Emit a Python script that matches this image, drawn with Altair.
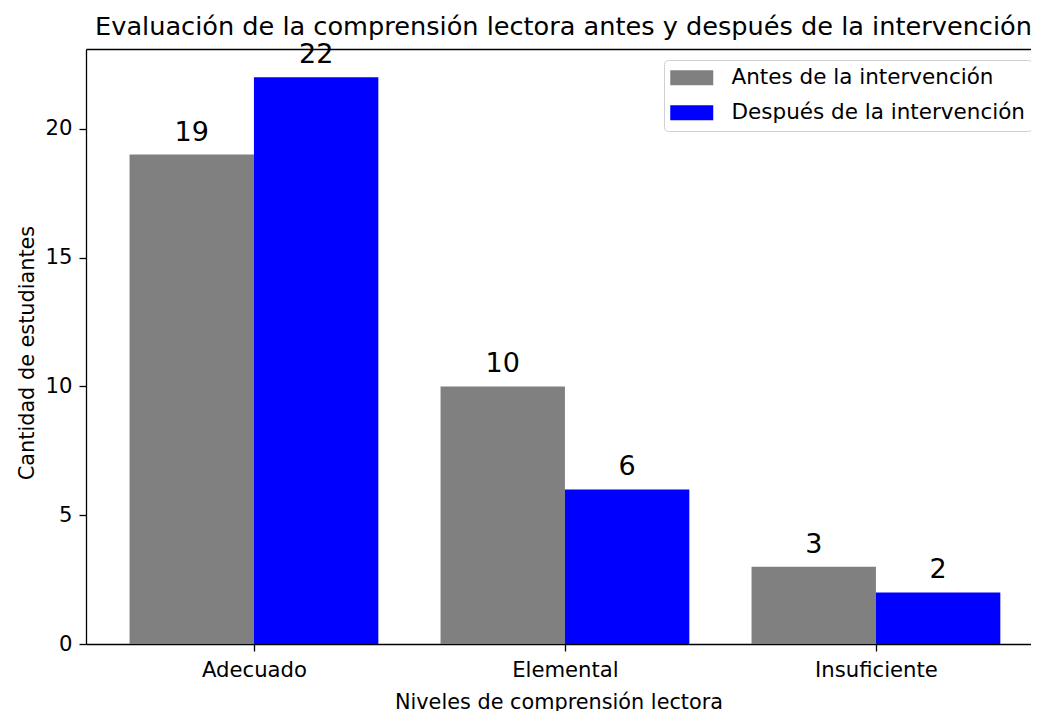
import json
import altair as alt
import pandas as pd

categorias = ["Adecuado", "Elemental", "Insuficiente"]
antes = [19, 10, 3]
despues = [22, 6, 2]
grupos = ["Antes de la intervención", "Después de la intervención"]
colores = ["#808080", "#0000ff"]
titulo = "Evaluación de la comprensión lectora antes y después de la intervención"
eje_x = "Niveles de comprensión lectora"
eje_y = "Cantidad de estudiantes"
ticks_y = [0, 5, 10, 15, 20]

rows = []
for i, cat in enumerate(categorias):
    rows.append({"nivel": cat, "pos": i, "grupo": grupos[0], "orden": 0, "valor": antes[i]})
    rows.append({"nivel": cat, "pos": i, "grupo": grupos[1], "orden": 1, "valor": despues[i]})
df = pd.DataFrame(rows)

ancho = 0.4
FONT = "DejaVu Sans"
W, H = 945, 595

base = alt.Chart(df).transform_calculate(
    x0=f"datum.pos + (datum.orden - 1) * {ancho}",
    x1=f"datum.pos + datum.orden * {ancho}",
    xm=f"datum.pos + (datum.orden - 0.5) * {ancho}",
)

xscale = alt.Scale(domain=[-0.54, 2.4986], nice=False, zero=False)
yscale = alt.Scale(domain=[0, 23.1], nice=False)

bars = base.mark_rect().encode(
    x=alt.X(
        "x0:Q",
        scale=xscale,
        axis=alt.Axis(
            values=[0, 1, 2],
            labelExpr=f"{json.dumps(categorias)}[datum.value]",
            title=eje_x,
            grid=False,
            orient="bottom",
            labelPadding=8,
            titlePadding=12,
        ),
    ),
    x2="x1:Q",
    y=alt.Y(
        "valor:Q",
        scale=yscale,
        axis=alt.Axis(values=ticks_y, title=eje_y, grid=False, labelPadding=7,
                      titlePadding=8, titleY=H / 2 + 6),
    ),
    y2=alt.datum(0),
    color=alt.Color(
        "grupo:N",
        scale=alt.Scale(domain=grupos, range=colores),
        legend=alt.Legend(title=None),
    ),
)

text = base.mark_text(
    baseline="alphabetic", dy=-14, fontSize=27, font=FONT, color="black"
).encode(
    x=alt.X("xm:Q", scale=xscale,
            axis=alt.Axis(orient="top", labels=False, ticks=False, grid=False,
                          title=None, domain=True)),
    y=alt.Y("valor:Q", scale=yscale),
    text="valor:Q",
)

chart = (
    alt.layer(bars, text)
    .resolve_axis(x="independent")
    .properties(
        width=W,
        height=H,
        title=alt.TitleParams(
            titulo, fontSize=25.6, font=FONT, fontWeight="normal", color="black",
            anchor="middle", frame="group", baseline="alphabetic", offset=-19, dx=5,
        ),
        autosize=alt.AutoSizeParams(type="none"),
        padding={"left": 78, "top": 41, "right": 0, "bottom": 70},
    )
    .configure_view(strokeWidth=0)
    .configure_axis(
        labelFont=FONT, titleFont=FONT, labelFontSize=21.2, titleFontSize=20.8,
        labelColor="black", titleColor="black", titleFontWeight="normal",
        domainColor="black", domainWidth=1.3, tickColor="black", tickWidth=1.3,
        tickSize=7,
    )
    .configure_legend(
        orient="none", legendX=578, legendY=11, padding=7,
        strokeColor="#d0d0d0", cornerRadius=4, fillColor="white",
        labelFont=FONT, labelFontSize=21.5, labelColor="black", labelLimit=500,
        symbolType="M-1.533,-1H4.2V1H-1.533Z", symbolSize=225, symbolStrokeWidth=0,
        labelOffset=39, rowPadding=12,
    )
)

chart.save("out.html", embed_options={"renderer": "svg", "actions": False})
